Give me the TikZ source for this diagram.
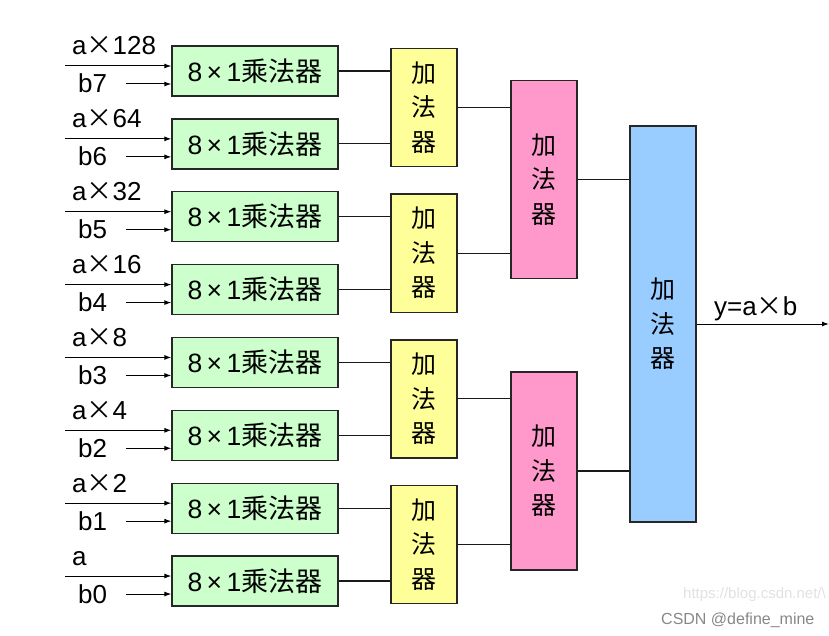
\documentclass[tikz,border=0pt]{standalone}
\usepackage{fontspec}
\setmainfont{Liberation Sans}
\newfontfamily\cjk{Noto Sans CJK SC}
\usetikzlibrary{arrows.meta}
\definecolor{mulgreen}{RGB}{204,255,204}
\definecolor{addyellow}{RGB}{255,255,153}
\definecolor{addpink}{RGB}{255,153,204}
\definecolor{addblue}{RGB}{153,204,255}
\definecolor{wmlight}{RGB}{225,225,225}
\definecolor{wmdark}{RGB}{135,135,135}
\begin{document}
\begin{tikzpicture}[x=1pt,y=-1pt,
  box/.style={draw=black!85, line width=1.3pt, inner sep=0pt},
  mulbox/.style={box, fill=mulgreen, minimum width=166pt, minimum height=50pt,
    font=\fontsize{26.5}{28}\selectfont},
  addbox/.style={box, minimum width=66pt, align=center,
    font=\cjk\fontsize{25}{34.5}\selectfont},
  wire/.style={line width=1.2pt, draw=black!90},
  arr/.style={line width=1pt, -{Latex[length=7pt,width=5pt]}},
  lbl/.style={anchor=base west, inner sep=0pt, font=\fontsize{26}{28}\selectfont}
]
\useasboundingbox (0,0) rectangle (829,636);

% multipliers with inputs
\foreach \i/\la/\lb in {0/a{\cjk ×}128/b7, 1/a{\cjk ×}64/b6, 2/a{\cjk ×}32/b5,
    3/a{\cjk ×}16/b4, 4/a{\cjk ×}8/b3, 5/a{\cjk ×}4/b2, 6/a{\cjk ×}2/b1, 7/a/b0}{
  \pgfmathsetmacro\yc{71+72.86*\i}
  \node[mulbox] (g\i) at (255,\yc) {8\,×\,1{\cjk\fontsize{27}{28}\selectfont 乘法器}};
  \coordinate (ain\i) at (65,\yc-5);
  \coordinate (bin\i) at (126,\yc+13);
  \draw[arr] (ain\i) -- (ain\i -| g\i.west);
  \draw[arr] (bin\i) -- (bin\i -| g\i.west);
  \node[lbl] (la\i) at (72,\yc-16) {\la};
  \node[lbl] (lb\i) at (78,\yc+22) {\lb};
}

% first-level adders
\foreach \j in {0,...,3}{
  \pgfmathsetmacro\yc{107.43+145.72*\j}
  \node[addbox, fill=addyellow, minimum height=118pt] (y\j) at (424,\yc) {加\\法\\器};
}
% second-level adders
\foreach \k in {0,1}{
  \pgfmathsetmacro\yc{179.5+291.4*\k}
  \node[addbox, fill=addpink, minimum height=198pt] (p\k) at (544,\yc) {加\\法\\器};
}
% final adder
\node[addbox, fill=addblue, minimum height=396pt] (bl) at (663,324) {加\\法\\器};

% connectors
\foreach \i in {0,...,7}{
  \pgfmathtruncatemacro\j{int(\i/2)}
  \draw[wire] (g\i.east) -- (g\i.east -| y\j.west);
}
\foreach \j in {0,...,3}{
  \pgfmathtruncatemacro\k{int(\j/2)}
  \draw[wire] (y\j.east) -- (y\j.east -| p\k.west);
}
\foreach \k in {0,1}{
  \draw[wire] (p\k.east) -- (p\k.east -| bl.west);
}
\coordinate (yout) at (829,324);
\draw[arr] (bl.east) -- (yout);
\node[lbl] (ylbl) at (714,315) {y=a{\cjk ×}b};

% watermark
\node[anchor=base west, inner sep=0pt, text=wmlight, font=\fontsize{15}{18}\selectfont] (wm1) at (683,598) {https://blog.csdn.net/\textbackslash};
\node[anchor=base west, inner sep=0pt, text=wmdark, font=\fontsize{16}{18}\selectfont] (wm2) at (661,624) {CSDN @define\_mine};
\end{tikzpicture}
\end{document}
